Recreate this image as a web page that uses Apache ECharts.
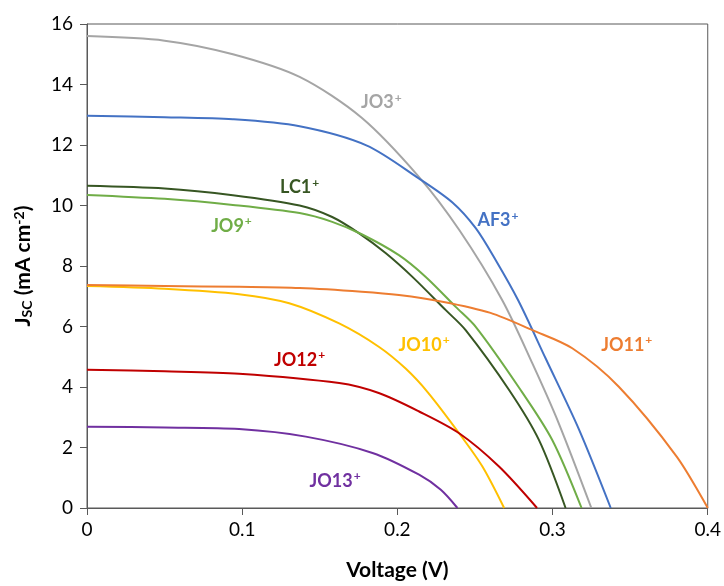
<!DOCTYPE html>
<html>
<head>
<meta charset="utf-8">
<script src="https://cdn.jsdelivr.net/npm/echarts@6/dist/echarts.min.js"></script>
<style>
  html, body { margin: 0; padding: 0; background: #fff; }
  #chart { width: 724px; height: 586px; }
</style>
</head>
<body>
<div id="chart"></div>
<script>
// J-V curves, [voltage (V), Jsc (mA cm-2)]
const jo3 = [[0, 15.6], [0.05, 15.45], [0.094, 15.0], [0.137, 14.25], [0.177, 12.9], [0.214, 10.94], [0.24, 9.18],
  [0.2676, 6.87], [0.287, 4.78], [0.304, 2.8], [0.325, 0]];
const af3 = [[0, 12.97], [0.05, 12.92], [0.094, 12.85], [0.137, 12.62], [0.18, 11.99], [0.214, 10.89], [0.2355, 10.1],
  [0.2505, 9.25], [0.2634, 8.19], [0.278, 6.85], [0.2955, 4.95], [0.317, 2.6], [0.3375, 0]];
const lc1 = [[0, 10.65], [0.05, 10.56], [0.094, 10.34], [0.137, 10.0], [0.158, 9.62], [0.1754, 9.08], [0.1926, 8.42],
  [0.2097, 7.64], [0.2312, 6.54], [0.244, 5.88], [0.272, 3.9], [0.2912, 2.25], [0.3084, 0]];
const jo9 = [[0, 10.35], [0.05, 10.22], [0.094, 10.02], [0.137, 9.75], [0.158, 9.46], [0.177, 9.05], [0.201, 8.36],
  [0.2183, 7.64], [0.2376, 6.65], [0.2505, 5.99], [0.278, 4.01], [0.2998, 2.25], [0.3187, 0]];
const jo10 = [[0, 7.34], [0.05, 7.25], [0.098, 7.07], [0.1303, 6.77], [0.1625, 6.1], [0.188, 5.33], [0.2055, 4.6],
  [0.22, 3.8], [0.2398, 2.47], [0.2548, 1.37], [0.2688, 0]];
const jo11 = [[0, 7.37], [0.05, 7.34], [0.098, 7.31], [0.137, 7.27], [0.177, 7.15], [0.201, 7.04], [0.229, 6.82],
  [0.26, 6.45], [0.287, 5.88], [0.3127, 5.28], [0.3427, 4.01], [0.38, 1.7], [0.4, 0]];
const jo12 = [[0, 4.57], [0.05, 4.52], [0.098, 4.44], [0.1625, 4.13], [0.188, 3.8], [0.214, 3.19], [0.2398, 2.47],
  [0.2655, 1.37], [0.29, 0]];
const jo13 = [[0, 2.69], [0.05, 2.66], [0.098, 2.61], [0.141, 2.36], [0.184, 1.82], [0.214, 1.1], [0.228, 0.6],
  [0.2387, 0]];

const seriesNames = ['JO3', 'AF3', 'LC1', 'JO9', 'JO10', 'JO11', 'JO12', 'JO13'];
const seriesData = [jo3, af3, lc1, jo9, jo10, jo11, jo12, jo13];
const seriesColors = ['#A5A5A5', '#4472C4', '#375623', '#70AD47', '#FFC000', '#ED7D31', '#C00000', '#7030A0'];
// where each curve's name sits, in data coordinates
const labelPos = [[0.1897, 13.41], [0.2648, 9.51], [0.137, 10.6], [0.0931, 9.32], [0.2172, 5.39], [0.3478, 5.39],
  [0.137, 4.9], [0.1599, 0.9]];

const xTicks = { min: 0, max: 0.4, interval: 0.1 };
const yTicks = { min: 0, max: 16, interval: 2 };

const font = 'Lato, "Open Sans", sans-serif';
const axisColor = '#595959';

const chart = echarts.init(document.getElementById('chart'));

const series = seriesNames.map((name, i) => ({
  name: name,
  type: 'line',
  data: seriesData[i],
  smooth: 0.3,
  symbol: 'none',
  lineStyle: { width: 2, color: seriesColors[i] },
  itemStyle: { color: seriesColors[i] },
  markPoint: {
    symbol: 'circle',
    symbolSize: 0,
    silent: true,
    data: [{ coord: labelPos[i], name: name }],
    label: {
      show: true,
      position: 'inside',
      formatter: '{b|' + name + '}{s|+}',
      rich: {
        b: { fontFamily: font, fontWeight: 'bold', fontSize: 18, color: seriesColors[i] },
        s: { fontFamily: font, fontWeight: 'bold', fontSize: 12, color: seriesColors[i], padding: [0, 0, 9, 1] }
      }
    }
  }
}));

chart.setOption({
  animation: false,
  backgroundColor: '#fff',
  grid: {
    left: 87, right: 15, top: 24, bottom: 78,
    show: true, borderColor: axisColor, borderWidth: 1
  },
  xAxis: {
    type: 'value',
    min: xTicks.min, max: xTicks.max, interval: xTicks.interval,
    name: 'Voltage (V)',
    nameLocation: 'middle',
    nameGap: 52,
    nameTextStyle: { fontFamily: font, fontWeight: 'bold', fontSize: 21, color: '#000' },
    axisLine: { show: true, lineStyle: { color: axisColor, width: 1 } },
    axisTick: { show: true, inside: false, length: 7, lineStyle: { color: axisColor } },
    axisLabel: {
      fontFamily: font, fontSize: 19, color: '#000', margin: 12,
      formatter: v => (v === 0 ? '0' : (Math.round(v * 10) / 10).toString())
    },
    splitLine: { show: false }
  },
  yAxis: {
    type: 'value',
    min: yTicks.min, max: yTicks.max, interval: yTicks.interval,
    name: '{b|J}{sub|SC}{b| (mA cm}{sup|-2}{b|)}',
    nameLocation: 'middle',
    nameGap: 52,
    nameRotate: 90,
    nameTextStyle: {
      rich: {
        b: { fontFamily: font, fontWeight: 'bold', fontSize: 21, color: '#000' },
        sub: { fontFamily: font, fontWeight: 'bold', fontSize: 14, color: '#000', padding: [8, 0, 0, 0] },
        sup: { fontFamily: font, fontWeight: 'bold', fontSize: 14, color: '#000', padding: [0, 0, 9, 0] }
      }
    },
    axisLine: { show: true, lineStyle: { color: axisColor, width: 1 } },
    axisTick: { show: true, inside: false, length: 7, lineStyle: { color: axisColor } },
    axisLabel: { fontFamily: font, fontSize: 19, color: '#000', margin: 14 },
    splitLine: { show: false }
  },
  series: series
});
</script>
</body>
</html>
